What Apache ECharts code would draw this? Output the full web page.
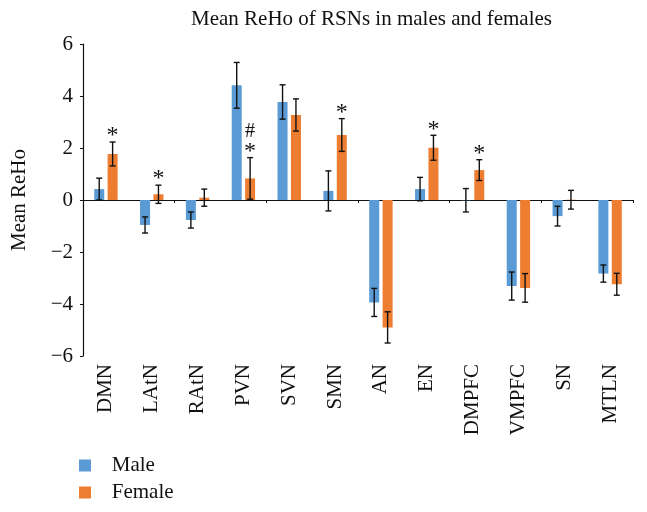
<!DOCTYPE html>
<html>
<head>
<meta charset="utf-8">
<script src="https://cdn.jsdelivr.net/npm/echarts@6/dist/echarts.min.js"></script>
<style>
  html, body { margin: 0; padding: 0; background: #fff; }
  #chart { width: 647px; height: 512px; }
</style>
</head>
<body>
<div id="chart"></div>
<script>
// 网络名称
const categories = ['DMN', 'LAtN', 'RAtN', 'PVN', 'SVN', 'SMN', 'AN', 'EN', 'DMPFC', 'VMPFC', 'SN', 'MTLN']
// 均值
const maleMean = [0.42, -0.96, -0.77, 4.41, 3.77, 0.35, -3.94, 0.42, -0.01, -3.31, -0.62, -2.83]
const femaleMean = [1.77, 0.22, 0.09, 0.83, 3.27, 2.5, -4.9, 2.01, 1.15, -3.38, 0.01, -3.24]
// 误差
const maleErr = [0.42, 0.31, 0.31, 0.88, 0.66, 0.77, 0.54, 0.45, 0.45, 0.54, 0.38, 0.33]
const femaleErr = [0.46, 0.35, 0.33, 0.8, 0.62, 0.63, 0.6, 0.48, 0.4, 0.55, 0.36, 0.42]
// 显著性标记
const femaleStar = ['*', '*', '', '*', '', '*', '', '*', '*', '', '', '']
const femaleHash = ['', '', '', '#', '', '', '', '', '', '', '', '']
const yTicks = [-6, -4, -2, 0, 2, 4, 6]

const font = 'Liberation Serif'
const chart = echarts.init(document.getElementById('chart'))

// 误差线 + 标记
function errSeries (name, mean, err, offset, stars, hashes) {
  return {
    name: name + '-err',
    type: 'custom',
    xAxisIndex: 0,
    z: 5,
    data: mean.map((v, i) => [i, v, err[i]]),
    renderItem (params, api) {
      const i = api.value(0)
      const m = api.value(1)
      const e = api.value(2)
      const top = api.coord([i, m + e])
      const bot = api.coord([i, m - e])
      const x = top[0] + offset
      const cap = 3
      const style = { stroke: '#111', lineWidth: 1.4 }
      const children = [
        { type: 'line', shape: { x1: x, y1: top[1], x2: x, y2: bot[1] }, style },
        { type: 'line', shape: { x1: x - cap, y1: top[1], x2: x + cap, y2: top[1] }, style },
        { type: 'line', shape: { x1: x - cap, y1: bot[1], x2: x + cap, y2: bot[1] }, style }
      ]
      if (stars && stars[i]) {
        children.push({
          type: 'text',
          style: {
            x: x, y: top[1] - 6, text: stars[i],
            align: 'center', verticalAlign: 'middle',
            font: '24px ' + font, fill: '#111'
          }
        })
      }
      if (hashes && hashes[i]) {
        children.push({
          type: 'text',
          style: {
            x: x, y: top[1] - 26, text: hashes[i],
            align: 'center', verticalAlign: 'middle',
            font: '20px ' + font, fill: '#111'
          }
        })
      }
      return { type: 'group', children }
    }
  }
}

const option = {
  animation: false,
  textStyle: { fontFamily: font },
  title: {
    text: 'Mean ReHo of RSNs in males and females',
    left: 186,
    top: 4,
    textStyle: { fontFamily: font, fontSize: 21, fontWeight: 'normal', color: '#111' }
  },
  legend: {
    data: ['Male', 'Female'],
    orient: 'vertical',
    left: 74,
    top: 450,
    itemWidth: 12,
    itemHeight: 12,
    itemGap: 6,
    icon: 'rect',
    formatter: name => '   ' + name,
    textStyle: { fontFamily: font, fontSize: 21, color: '#111' }
  },
  grid: { left: 83, right: 14, top: 44, bottom: 156 },
  xAxis: [
    {
      type: 'category',
      data: categories,
      axisLine: { onZero: true, lineStyle: { color: '#111', width: 1.2 } },
      axisTick: { show: true, length: 3, lineStyle: { color: '#111' } },
      axisLabel: { show: false }
    },
    {
      type: 'category',
      data: categories,
      position: 'bottom',
      axisLine: { show: false, onZero: false },
      axisTick: { show: false },
      axisLabel: { rotate: 90, margin: 8, fontFamily: font, fontSize: 21, color: '#111' }
    }
  ],
  yAxis: {
    type: 'value',
    min: -6,
    max: 6,
    interval: 2,
    name: 'Mean ReHo',
    nameLocation: 'middle',
    nameGap: 53,
    nameTextStyle: { fontFamily: font, fontSize: 21, color: '#111' },
    splitLine: { show: false },
    axisLine: { show: true, lineStyle: { color: '#111', width: 1.2 } },
    axisTick: { show: true, length: 3, lineStyle: { color: '#111' } },
    axisLabel: {
      margin: 10,
      fontFamily: font,
      fontSize: 21,
      color: '#111',
      formatter: v => yTicks.includes(v) ? String(v).replace('-', '\u2212') : ''
    }
  },
  series: [
    {
      name: 'Male',
      type: 'bar',
      data: maleMean,
      barWidth: 10,
      barGap: '34%',
      itemStyle: { color: '#5B9BD5' }
    },
    {
      name: 'Female',
      type: 'bar',
      data: femaleMean,
      barWidth: 10,
      itemStyle: { color: '#ED7D31' }
    },
    errSeries('Male', maleMean, maleErr, -6.7, null, null),
    errSeries('Female', femaleMean, femaleErr, 6.7, femaleStar, femaleHash)
  ]
}
chart.setOption(option)
</script>
</body>
</html>
